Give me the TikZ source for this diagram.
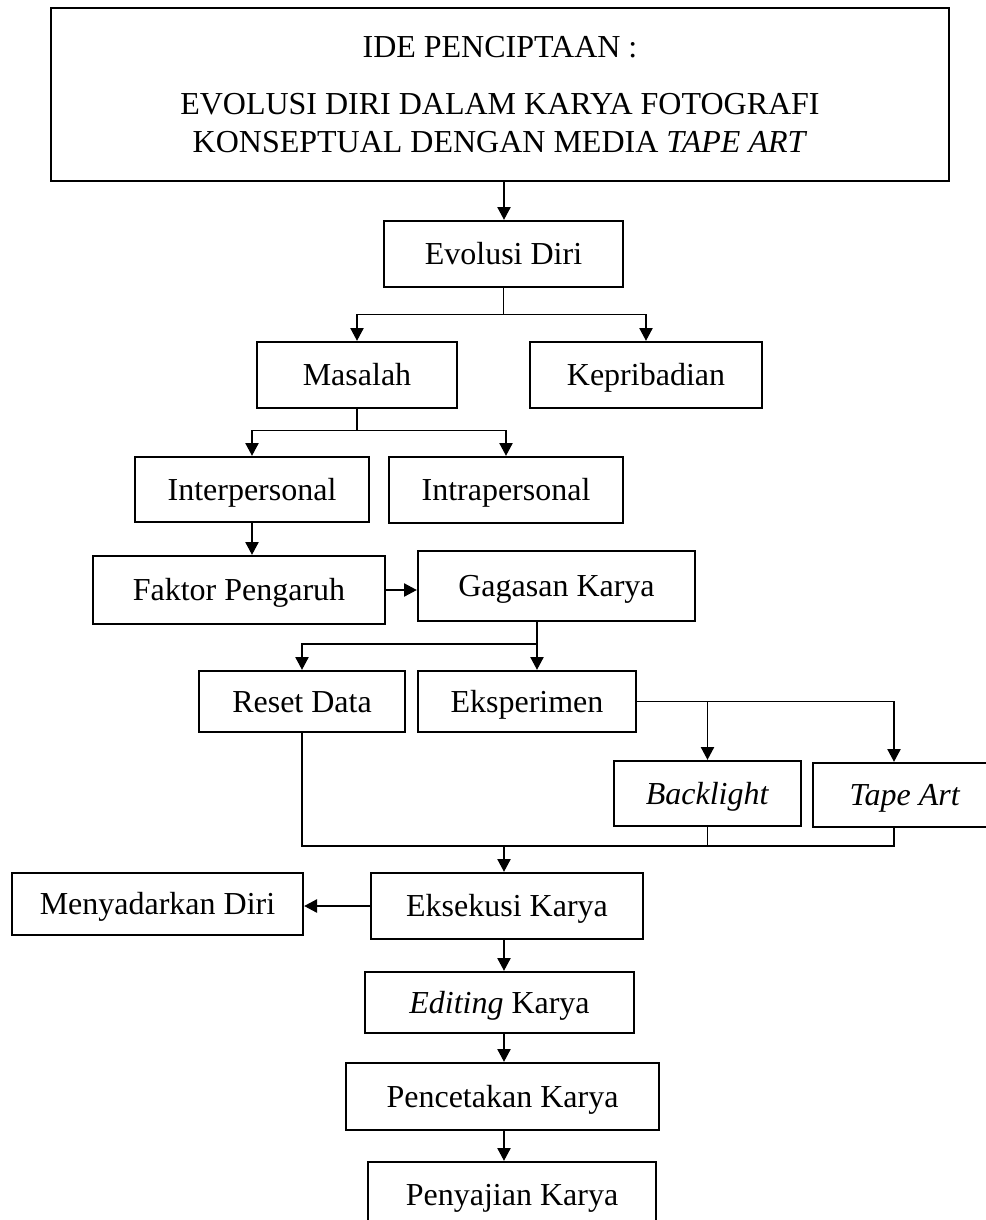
\documentclass[tikz,border=0pt]{standalone}
\usepackage{fontspec}
\setmainfont{Liberation Serif}
\usetikzlibrary{arrows.meta}

\begin{document}
\begin{tikzpicture}[x=0.375pt, y=-0.375pt,
    box/.style 2 args={draw, line width=0.9pt, inner sep=0pt,
        minimum width=#1*0.375pt, minimum height=#2*0.375pt,
        text height=8pt, text depth=0pt, font=\fontsize{12}{14.25}\selectfont},
    titlebox/.style={draw, line width=1.1pt, inner sep=0pt, align=center,
        minimum width=898*0.375pt, minimum height=173*0.375pt,
        font=\fontsize{12}{14.25}\selectfont},
    line/.style={line width=0.5pt},
    arr/.style={line width=0.5pt, -{Triangle[length=4.8pt, width=5pt]}}]
    \useasboundingbox (0,0) rectangle (985,1220);

    \node[titlebox] (ide) at (500,94.5) {IDE PENCIPTAAN :\\[7.15pt]
        EVOLUSI DIRI DALAM KARYA FOTOGRAFI\\
        KONSEPTUAL DENGAN MEDIA \textit{TAPE ART}};

    \node[box={239}{66}] (evolusi) at (503.5,254) {Evolusi Diri};
    \node[box={200}{66}] (masalah) at (357,375) {Masalah};
    \node[box={232}{66}] (kepribadian) at (646,375) {Kepribadian};
    \node[box={234}{65}] (interpersonal) at (252,489.5) {Interpersonal};
    \node[box={234}{66}] (intrapersonal) at (506,490) {Intrapersonal};
    \node[box={292}{68}] (faktor) at (239,590) {Faktor Pengaruh};
    \node[box={277}{70}] (gagasan) at (556.5,586) {Gagasan Karya};
    \node[box={206}{61}] (reset) at (302,701.5) {Reset Data};
    \node[box={218}{61}] (eksperimen) at (527,701.5) {Eksperimen};
    \node[box={187}{65}] (backlight) at (707.5,793.5) {\textit{Backlight}};
    \node[box={184}{64}] (tapeart) at (905,795) {\textit{Tape Art}};
    \node[box={272}{66}] (eksekusi) at (507,906) {Eksekusi Karya};
    \node[box={291}{62}] (menyadarkan) at (157.5,904) {Menyadarkan Diri};
    \node[box={269}{61}] (editing) at (499.5,1002.5) {\textit{Editing} Karya};
    \node[box={313}{67}] (pencetakan) at (502.5,1096.5) {Pencetakan Karya};
    \node[box={288}{66}] (penyajian) at (512,1195) {Penyajian Karya};

    % garis bantu
    \coordinate (axis) at (504,0);
    \coordinate (j3) at (537,644);
    \coordinate (ta) at (894,0);
    \coordinate (j5) at (0,846);

    \draw[arr] (axis |- ide.south) -- (axis |- evolusi.north);
    \draw[line] (evolusi.south) -- ++(0,26) coordinate (j1);
    \draw[arr] (j1) -| (masalah);
    \draw[arr] (j1) -| (kepribadian);
    \draw[line] (masalah.south) -- ++(0,21) coordinate (j2);
    \draw[arr] (j2) -| (interpersonal);
    \draw[arr] (j2) -| (intrapersonal);
    \draw[arr] (interpersonal.south) -- (interpersonal.south |- faktor.north);
    \draw[arr] (faktor.east) -- (faktor.east -| gagasan.west);

    \draw[arr] (j3 |- gagasan.south) -- (j3 |- eksperimen.north);
    \draw[arr] (j3) -| (reset);
    \draw[arr] (eksperimen.east) -| (ta |- tapeart.north);
    \draw[arr] (eksperimen.east -| backlight) -- (backlight);

    % gabungan ke eksekusi
    \draw[line] (reset.south) |- (ta |- j5) -- (ta |- tapeart.south);
    \draw[line] (backlight.south) -- (backlight.south |- j5);
    \draw[arr] (axis |- j5) -- (axis |- eksekusi.north);
    \draw[arr] (eksekusi.west) -- (eksekusi.west -| menyadarkan.east);
    \foreach \a/\b in {eksekusi/editing, editing/pencetakan, pencetakan/penyajian}
        \draw[arr] (axis |- \a.south) -- (axis |- \b.north);
\end{tikzpicture}
\end{document}
